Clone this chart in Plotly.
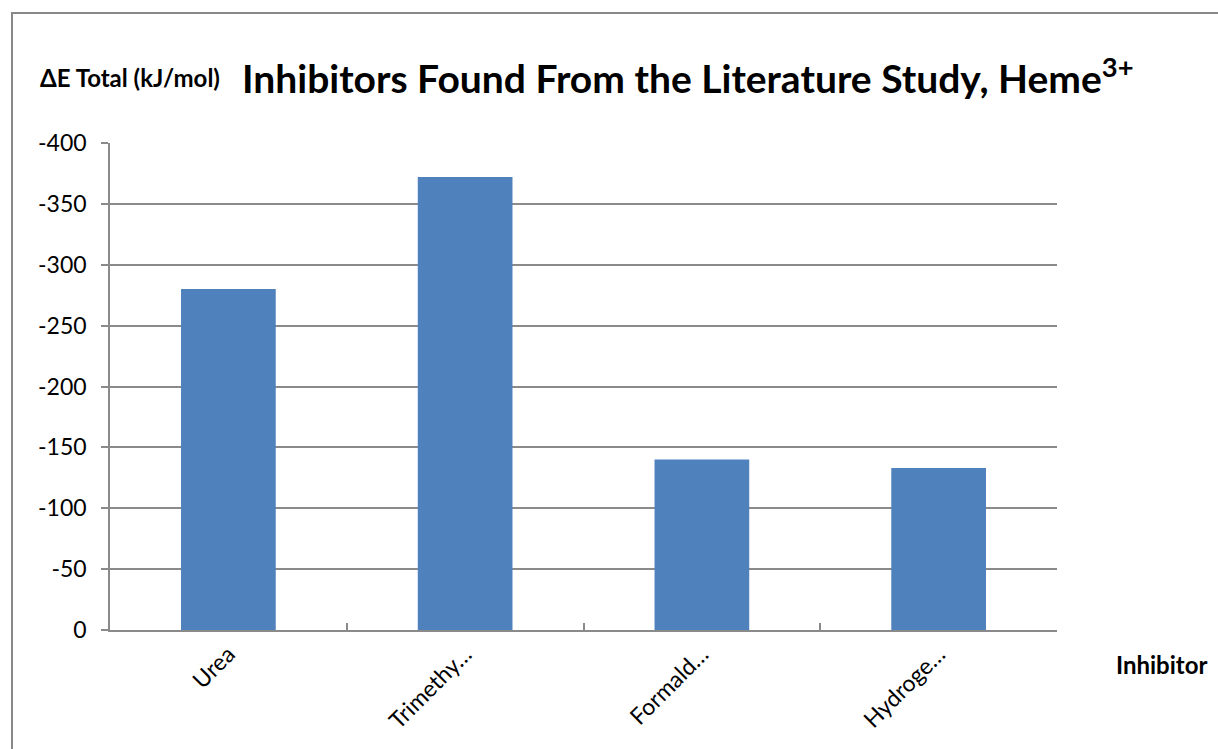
import plotly.graph_objects as go

# Inhibitor interaction energies with Heme(3+)
inhibitors = ["Urea", "Trimethy…", "Formald…", "Hydroge…"]
delta_e_total = [-280, -372, -140, -133]
y_ticks = [0, -50, -100, -150, -200, -250, -300, -350, -400]

W, H = 1218, 749
L, R, T, B = 110, 161, 143, 119
pw, ph = W - L - R, H - T - B

def px_x(px):
    return (px - L) / pw

def px_y(py):
    return (H - B - py) / ph

GRID = "#8a8a8a"
FONT = "Lato, Carlito, 'Open Sans', sans-serif"

fig = go.Figure(
    go.Bar(
        x=inhibitors,
        y=delta_e_total,
        marker=dict(color="#4F81BD", line=dict(width=0)),
        width=0.4,
    )
)

fig.update_layout(
    width=W,
    height=H,
    margin=dict(l=L, r=R, t=T, b=B),
    paper_bgcolor="white",
    plot_bgcolor="white",
    showlegend=False,
    font=dict(family=FONT, color="black"),
    xaxis=dict(
        type="category",
        tickangle=-45,
        tickfont=dict(size=23, family=FONT),
        ticks="inside",
        tickson="boundaries",
        ticklen=7,
        tickcolor=GRID,
        tickwidth=1.5,
        showline=True,
        linecolor=GRID,
        linewidth=1.5,
        showgrid=False,
    ),
    yaxis=dict(
        range=[0, -400],
        tickvals=y_ticks,
        ticktext=[str(v) for v in y_ticks],
        tickfont=dict(size=23, family=FONT),
        ticks="outside",
        ticklen=7,
        tickcolor=GRID,
        tickwidth=1.5,
        showline=True,
        linecolor=GRID,
        linewidth=1.5,
        showgrid=True,
        gridcolor=GRID,
        gridwidth=1.5,
        zeroline=False,
        ticklabelstandoff=10,
    ),
    annotations=[
        dict(
            text="<b>Inhibitors Found From the Literature Study, Heme<sup>3+</sup></b>",
            xref="paper", yref="paper",
            x=px_x(240), y=px_y(76),
            xanchor="left", yanchor="middle",
            showarrow=False,
            font=dict(size=39, family=FONT, color="black"),
        ),
        dict(
            text="<b>ΔE Total (kJ/mol)</b>",
            xref="paper", yref="paper",
            x=px_x(38), y=px_y(77),
            xanchor="left", yanchor="middle",
            showarrow=False,
            font=dict(size=24, family=FONT, color="black"),
        ),
        dict(
            text="<b>Inhibitor</b>",
            xref="paper", yref="paper",
            x=px_x(1114), y=px_y(664),
            xanchor="left", yanchor="middle",
            showarrow=False,
            font=dict(size=24, family=FONT, color="black"),
        ),
    ],
    shapes=[
        dict(
            type="rect",
            xref="paper", yref="paper",
            x0=px_x(12), x1=px_x(1240),
            y0=px_y(770), y1=px_y(13),
            line=dict(color="#888888", width=2),
            fillcolor="rgba(0,0,0,0)",
            layer="below",
        )
    ],
)

fig.write_html("out.html")
